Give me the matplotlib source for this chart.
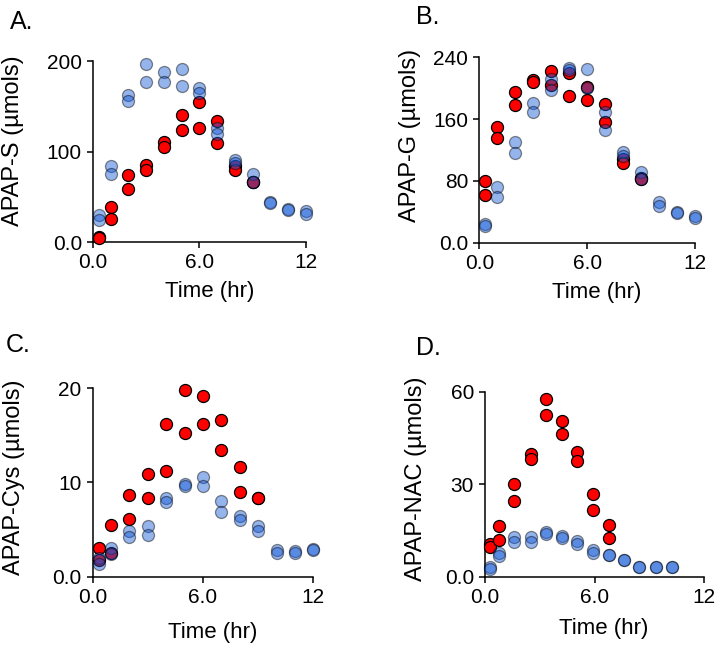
import matplotlib
matplotlib.use("Agg")
import matplotlib.pyplot as plt
from matplotlib.ticker import FixedLocator, FixedFormatter

plt.rcParams['font.family'] = ['Liberation Sans', 'DejaVu Sans']

# ---- data ----
t_abc = [0.33, 1, 2, 3, 4, 5, 6, 7, 8, 9, 10, 11, 12]
t_d = [0.25, 0.75, 1.6, 2.5, 3.35, 4.2, 5.05, 5.9, 6.8, 7.6, 8.45, 9.35, 10.25]

# APAP-S
s_red1 = [6, 39, 74, 85, 110.7, 140, 155, 134, 84, 67]
s_red2 = [5, 26, 59, 79.5, 105.5, 124, 126, 109, 80, 66]
s_blue1 = [30, 84.5, 162, 197, 188, 191, 170, 126, 91, 75, 44, 37, 35]
s_blue2 = [25, 75, 156, 177, 177, 172.5, 164.5, 120, 87, 67, 43, 36, 31]

# APAP-G
g_red1 = [80, 150, 195.6, 210.7, 222, 220, 202, 179, 108, 84]
g_red2 = [62, 135, 178, 208.5, 204, 190, 185, 156, 102.7, 82]
g_blue1 = [24, 72.5, 130, 180.5, 212, 226.6, 225, 169, 118, 91, 52, 40, 35]
g_blue2 = [21, 59.6, 116.6, 169, 197, 223.6, 200, 146, 112.7, 82, 48, 39, 31.5]

# APAP-Cys
c_red1 = [3.0, 5.5, 8.7, 10.9, 16.2, 19.8, 19.2, 16.6, 11.6, 8.3]
c_red2 = [1.8, 2.5, 6.1, 8.4, 11.2, 15.3, 16.2, 13.5, 9.0, 8.3]
c_blue1 = [2.0, 3.0, 4.8, 5.4, 8.3, 9.8, 10.6, 8.0, 6.4, 5.4, 2.8, 2.75, 2.9]
c_blue2 = [1.3, 2.4, 4.2, 4.4, 7.9, 9.6, 9.6, 6.9, 6.0, 4.8, 2.55, 2.55, 2.8]

# APAP-NAC
n_red1 = [10.5, 16.4, 30, 39.8, 57.5, 50.6, 40.3, 26.8, 16.8]
n_red2 = [9.5, 11.9, 24.5, 38.2, 52.4, 46.3, 37.5, 21.6, 12.4]
n_blue1 = [3.0, 7.8, 12.8, 12.8, 14.4, 13.3, 11.7, 8.6, 6.9, 5.4, 3.2, 3.0, 3.0]
n_blue2 = [2.4, 6.7, 11.4, 11.4, 13.8, 12.4, 10.6, 7.8, 6.9, 5.4, 3.2, 3.0, 3.0]

x_ticks = [0, 6, 12]
x_ticklabels = ["0.0", "6.0", "12"]

RED = "#ff0000"
BLUE = "#145ad7"

fig = plt.figure(figsize=(7.25, 6.52), dpi=100)

panels = [
    # letter, ylabel, axes rect, t, red1, red2, blue1, blue2, ymax, yticks, yticklabels,
    # ylabel coords, xlabel coords, letter position (px)
    ("A.", "APAP-S (µmols)", [0.1283, 0.6284, 0.2934, 0.2780], t_abc,
     s_red1, s_red2, s_blue1, s_blue2, 200, [0, 100, 200], ["0.0", "100", "200"],
     (-0.324, 0.56), (0.55, -0.213), (22, 22)),
    ("B.", "APAP-G (µmols)", [0.6611, 0.6278, 0.2979, 0.2844], t_abc,
     g_red1, g_red2, g_blue1, g_blue2, 240, [0, 80, 160, 240], ["0.0", "80", "160", "240"],
     (-0.27, 0.58), (0.545, -0.212), (428, 17)),
    ("C.", "APAP-Cys (µmols)", [0.1279, 0.1155, 0.3043, 0.2890], t_abc,
     c_red1, c_red2, c_blue1, c_blue2, 20, [0, 10, 20], ["0.0", "10", "20"],
     (-0.307, 0.53), (0.545, -0.238), (18, 345)),
    ("D.", "APAP-NAC (µmols)", [0.6690, 0.1155, 0.3025, 0.2837], t_d,
     n_red1, n_red2, n_blue1, n_blue2, 60, [0, 30, 60], ["0.0", "30", "60"],
     (-0.264, 0.53), (0.543, -0.223), (428, 348)),
]

for (letter, ylabel, rect, t, r1, r2, b1, b2, ymax, yt, ytl,
     ylc, xlc, letter_xy) in panels:
    ax = fig.add_axes(rect)
    nr = len(r1)
    for vals in (r1, r2):
        ax.scatter(t[:nr], vals, s=75, color=RED, edgecolor="black",
                   linewidth=0.9, zorder=3, clip_on=False)
    for vals in (b1, b2):
        ax.scatter(t[:len(vals)], vals, s=75, color=BLUE, alpha=0.45,
                   edgecolor="black", linewidth=0.9, zorder=4, clip_on=False)

    ax.set_xlim(0, 12)
    ax.set_ylim(0, ymax)
    ax.xaxis.set_major_locator(FixedLocator(x_ticks))
    ax.xaxis.set_major_formatter(FixedFormatter(x_ticklabels))
    ax.yaxis.set_major_locator(FixedLocator(yt))
    ax.yaxis.set_major_formatter(FixedFormatter(ytl))
    ax.tick_params(direction="out", length=4, width=1.1, labelsize=15,
                   pad=4, colors="black")

    for side in ("top", "right"):
        ax.spines[side].set_visible(False)
    for side in ("left", "bottom"):
        ax.spines[side].set_linewidth(1.1)

    ax.set_ylabel(ylabel, fontsize=17)
    ax.set_xlabel("Time (hr)", fontsize=16)
    ax.yaxis.set_label_coords(*ylc)
    ax.xaxis.set_label_coords(*xlc)

    fig.text(letter_xy[0] / 725, 1 - letter_xy[1] / 652, letter,
             fontsize=18, ha="center", va="center")

fig.savefig("out.png", dpi=100)
